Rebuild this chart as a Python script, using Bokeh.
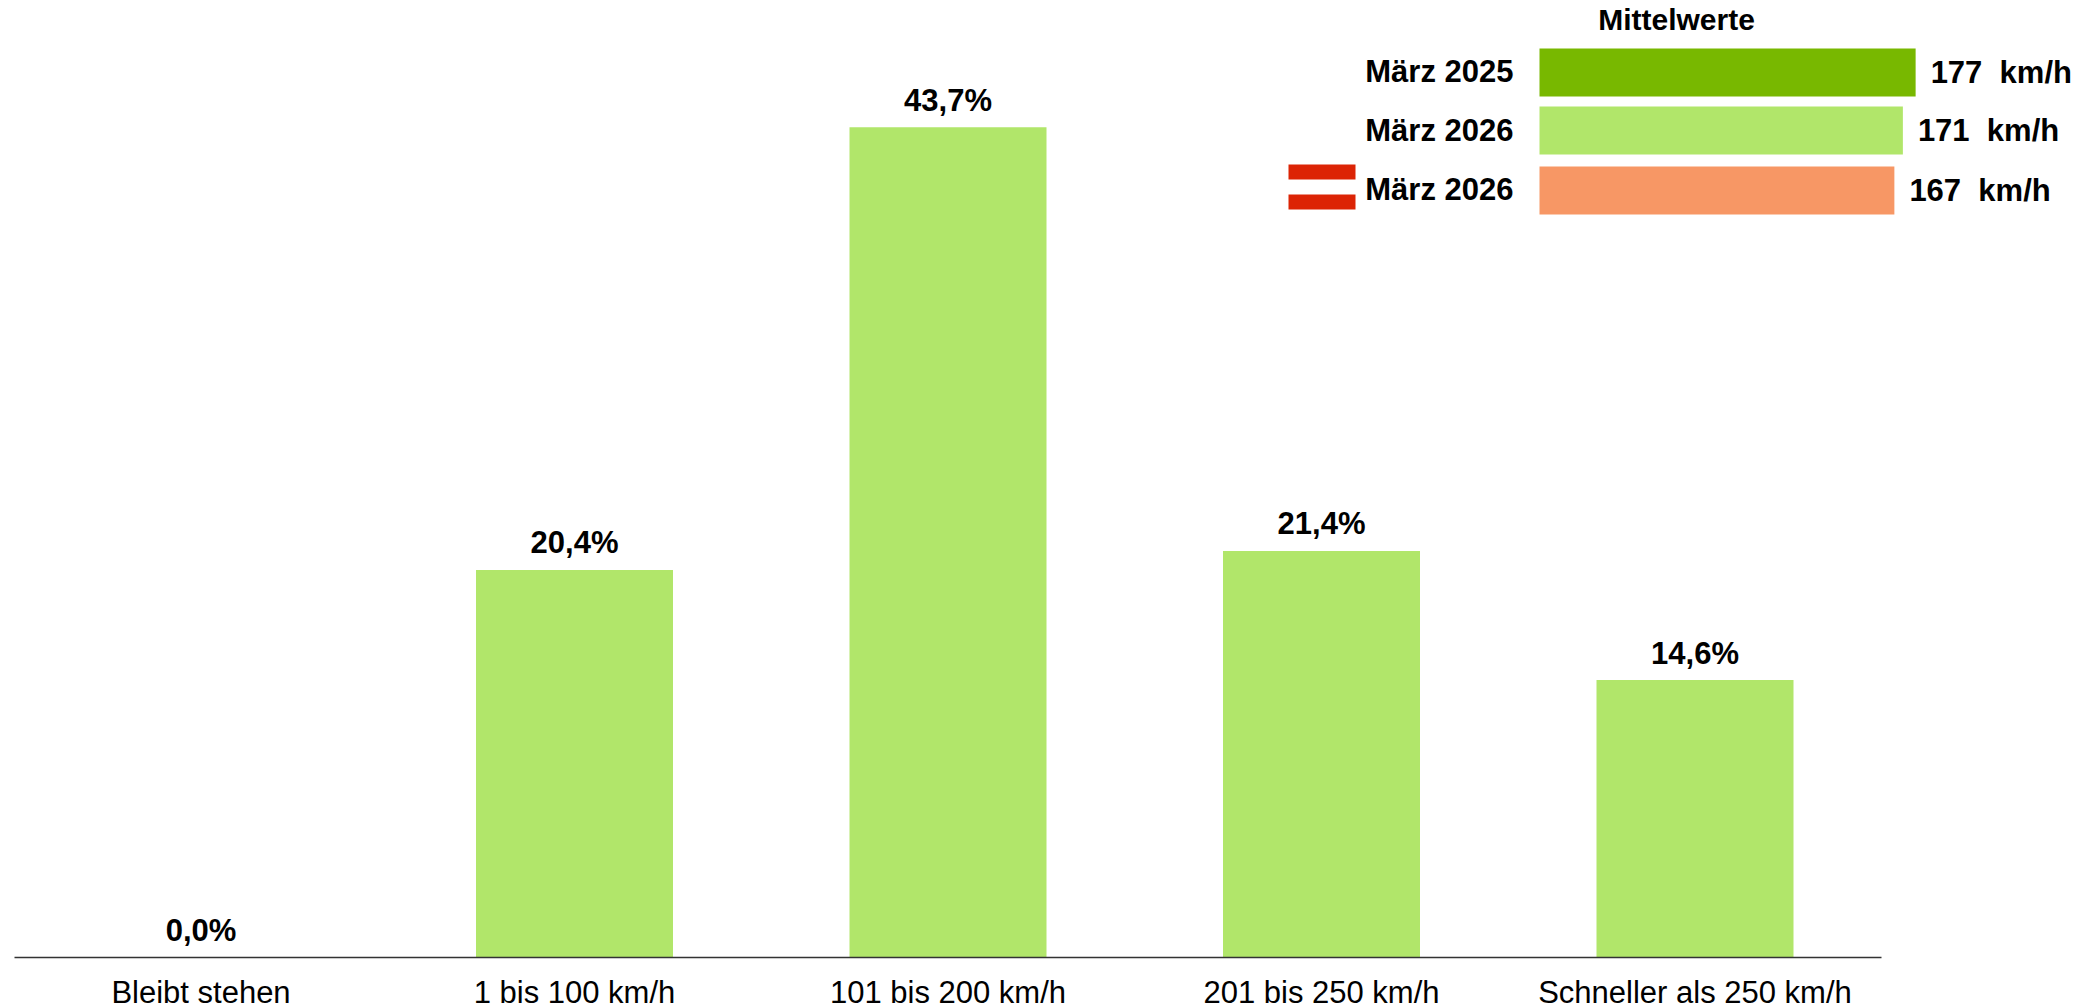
from bokeh.plotting import figure
from bokeh.models import Range1d, LinearAxis, FixedTicker
from bokeh.core.properties import value
from bokeh.embed import file_html
from bokeh.resources import INLINE

categories = ["Bleibt stehen", "1 bis 100 km/h", "101 bis 200 km/h", "201 bis 250 km/h", "Schneller als 250 km/h"]
shares = [0.0, 20.4, 43.7, 21.4, 14.6]
share_labels = ["0,0%", "20,4%", "43,7%", "21,4%", "14,6%"]

inset_title = "Mittelwerte"
inset_labels = ["März 2025", "März 2026", "März 2026"]
inset_values = [177, 171, 167]
inset_texts = ["177\u00a0\u00a0km/h", "171\u00a0\u00a0km/h", "167\u00a0\u00a0km/h"]
inset_colors = ["#78B800", "#B1E66A", "#F79765"]

FONT = value("Liberation Sans")
W, H = 2090, 1007
LEFT, TOP = 0, 0
AXIS_Y = 957.5
FRAME_H = int(AXIS_Y - TOP)
PX_PER_CAT = 373.5
FIRST_CENTER = 200.5
PX_PER_PCT = 19.0
INSET_X0 = 1539
PX_PER_KMH = 2.125
ROW_CENTERS = [72, 130, 190]
ROW_BASELINES = [71, 130, 189]
VALUE_BASELINES = [72, 130, 190]

p = figure(width=W, height=H, output_backend="svg", toolbar_location=None,
           x_range=Range1d((LEFT - FIRST_CENTER) / PX_PER_CAT, (LEFT + W - FIRST_CENTER) / PX_PER_CAT),
           y_range=Range1d(0, FRAME_H / PX_PER_PCT),
           x_axis_type=None, y_axis_type=None,
           min_border_left=0, min_border_right=0, min_border_top=0,
           min_border_bottom=H - FRAME_H, outline_line_color=None)
p.frame_height = FRAME_H
p.frame_width = W
p.grid.visible = False
p.background_fill_color = "white"

p.extra_x_ranges = {
    "px": Range1d(LEFT, LEFT + W),
    "inset": Range1d((LEFT - INSET_X0) / PX_PER_KMH, (LEFT + W - INSET_X0) / PX_PER_KMH),
}
p.extra_y_ranges = {"px": Range1d(FRAME_H, TOP)}

axis = LinearAxis(ticker=FixedTicker(ticks=list(range(len(categories)))),
                  major_label_overrides={i: c for i, c in enumerate(categories)},
                  bounds=(-0.5, len(categories) - 0.5))
axis.major_tick_line_color = None
axis.minor_tick_line_color = None
axis.axis_line_color = "#333333"
axis.axis_line_width = 1.5
axis.major_label_text_font = "Liberation Sans"
axis.major_label_text_font_size = "31px"
axis.major_label_text_color = "black"
axis.major_label_standoff = 11
p.add_layout(axis, "below")

xs = list(range(len(categories)))
p.vbar(x=xs, top=shares, bottom=0, width=197 / PX_PER_CAT, fill_color="#B1E66A", line_color=None)
p.text(x=xs, y=shares, text=share_labels, text_font=FONT, text_font_style="bold", text_font_size="31px",
       text_align="center", text_baseline="alphabetic", y_offset=-27, text_color="black")

# Inset
p.hbar(y=ROW_CENTERS, left=0, right=inset_values, height=48, fill_color=inset_colors, line_color=None,
       x_range_name="inset", y_range_name="px")
p.text(x=[1513] * 3, y=ROW_BASELINES, text=inset_labels, text_font=FONT, text_font_style="bold",
       text_font_size="31px", text_align="right", text_baseline="alphabetic", text_color="black",
       x_range_name="px", y_range_name="px")
p.text(x=inset_values, y=VALUE_BASELINES, text=inset_texts, text_font=FONT, text_font_style="bold",
       text_font_size="31px", text_align="left", text_baseline="alphabetic", text_color="black", x_offset=15,
       x_range_name="inset", y_range_name="px")
p.text(x=[1676], y=[19], text=[inset_title], text_font=FONT, text_font_style="bold",
       text_font_size="30px", text_align="center", text_baseline="alphabetic", text_color="black",
       x_range_name="px", y_range_name="px")

# Flag
p.quad(left=[1288, 1288], right=[1355, 1355], top=[164, 194], bottom=[179, 209], fill_color="#DC2405",
       line_color=None, x_range_name="px", y_range_name="px")

open("out.html", "w").write(file_html(p, INLINE))
